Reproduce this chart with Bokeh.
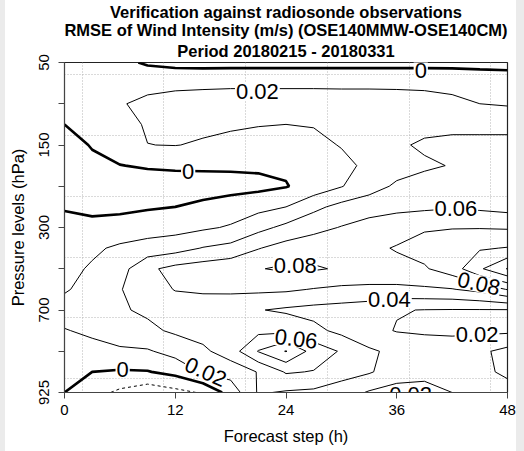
import numpy as np
from bokeh.plotting import figure
from bokeh.models import Range1d, FixedTicker, Title, Spacer, ColumnDataSource
from bokeh.layouts import row
from bokeh.core.properties import value
from bokeh.embed import file_html
from bokeh.resources import INLINE

FONT = "Liberation Sans"

title_lines = [
    "Verification against radiosonde observations",
    "RMSE of Wind Intensity (m/s) (OSE140MMW-OSE140CM)",
    "Period 20180215 - 20180331",
]
x_title = "Forecast step (h)"
y_title = "Pressure levels (hPa)"

# forecast steps (h) of the grid columns
steps_h = [0, 3, 6, 9, 12, 15, 18, 21, 24, 27, 30, 33, 36, 39, 42, 45, 48]
# vertical position of grid rows (0 = 50 hPa at top, 8 = 925 hPa at bottom)
level_pos = [0, 0.5, 1, 1.5, 2, 2.5, 3, 3.5, 4, 4.5, 5, 5.5, 6, 6.5, 7, 7.5, 8]

x_ticks = [0, 12, 24, 36, 48]
y_ticks = [0, 2, 4, 6, 8]
y_minor = [1, 3, 5, 7]
y_tick_labels = ["50", "150", "300", "700", "925"]

# RMSE difference values (one list per grid row)
row_00 = [0.012, 0.009, 0.004, -0.002, -0.005, -0.006, -0.006, -0.006, -0.006, -0.006, -0.006, -0.006, -0.006, -0.006, -0.006, -0.006, -0.006]
row_05 = [0.010, 0.011, 0.010, 0.012, 0.014, 0.015, 0.016, 0.016, 0.016, 0.016, 0.016, 0.016, 0.016, 0.016, 0.015, 0.012, 0.010]
row_10 = [0.008, 0.012, 0.018, 0.026, 0.030, 0.031, 0.031, 0.031, 0.031, 0.031, 0.030, 0.030, 0.029, 0.027, 0.024, 0.020, 0.018]
row_15 = [0.000, 0.006, 0.013, 0.022, 0.024, 0.024, 0.023, 0.021, 0.020, 0.021, 0.023, 0.026, 0.030, 0.034, 0.036, 0.036, 0.036]
row_20 = [-0.009, 0.0015, 0.010, 0.0198, 0.0205, 0.018, 0.014, 0.012, 0.012, 0.015, 0.021, 0.028, 0.037, 0.043, 0.044, 0.044, 0.044]
row_25 = [-0.010, -0.005, -0.0005, 0.002, 0.003, 0.003, 0.003, 0.003, 0.003, 0.008, 0.015, 0.024, 0.032, 0.037, 0.041, 0.043, 0.044]
row_30 = [-0.008, -0.010, -0.010, -0.010, -0.009, -0.008, -0.007, -0.005, -0.001, 0.008, 0.019, 0.032, 0.043, 0.048, 0.052, 0.054, 0.055]
row_35 = [-0.001, -0.006, -0.005, -0.002, 0.000, 0.004, 0.009, 0.014, 0.020, 0.035, 0.046, 0.051, 0.054, 0.056, 0.058, 0.056, 0.053]
row_40 = [0.004, 0.007, 0.009, 0.011, 0.013, 0.017, 0.022, 0.034, 0.045, 0.054, 0.061, 0.068, 0.074, 0.078, 0.079, 0.079, 0.078]
row_45 = [0.013, 0.017, 0.023, 0.028, 0.032, 0.041, 0.046, 0.059, 0.068, 0.072, 0.074, 0.077, 0.081, 0.087, 0.093, 0.098, 0.101]
row_50 = [0.015, 0.022, 0.032, 0.056, 0.066, 0.070, 0.074, 0.079, 0.083, 0.082, 0.078, 0.076, 0.076, 0.078, 0.090, 0.117, 0.141]
row_55 = [0.018, 0.027, 0.039, 0.050, 0.061, 0.063, 0.064, 0.064, 0.063, 0.059, 0.056, 0.055, 0.055, 0.057, 0.059, 0.066, 0.081]
row_60 = [0.028, 0.034, 0.038, 0.043, 0.048, 0.049, 0.046, 0.041, 0.037, 0.034, 0.032, 0.029, 0.021, 0.0195, 0.019, 0.019, 0.019]
row_65 = [0.019, 0.0235, 0.030, 0.036, 0.043, 0.048, 0.053, 0.055, 0.055, 0.045, 0.035, 0.026, 0.019, 0.017, 0.016, 0.016, 0.016]
row_70 = [0.012, 0.014, 0.017, 0.018, 0.027, 0.036, 0.050, 0.081, 0.101, 0.072, 0.058, 0.043, 0.035, 0.032, 0.031, 0.036, 0.046]
row_75 = [0.004, 0.000, -0.002, -0.001, 0.006, 0.022, 0.028, 0.041, 0.062, 0.059, 0.048, 0.042, 0.030, 0.025, 0.028, 0.035, 0.044]
row_80 = [0.000, -0.012, -0.024, -0.033, -0.026, -0.018, 0.008, 0.042, 0.038, 0.036, 0.030, 0.018, 0.012, 0.014, 0.020, 0.028, 0.032]

neg_levels = [-0.02]
zero_levels = [0.0]
pos_levels = [0.02, 0.04, 0.06, 0.08, 0.10, 0.12, 0.14]

# contour labels
lab_text = ["0", "0.02", "0", "0.06", "0.08", "0.08", "0.04", "0.02", "0.06", "0.02", "0", "0.02"]
lab_x = [38.6, 20.9, 13.4, 42.4, 25.0, 44.9, 35.2, 44.7, 25.1, 15.3, 6.3, 37.5]
lab_y = [0.19, 0.70, 2.64, 3.54, 4.92, 5.36, 5.75, 6.60, 6.70, 7.50, 7.45, 8.05]
lab_angle = [0, 0, 0, 0, 0, -0.22, 0, 0, -0.12, -0.42, 0, 0]

# dotted background grid positions
grid_x = [1.95, 10.7, 19.6, 28.5, 37.4, 46.2]
grid_y = [0.29, 1.77, 3.25, 4.73, 6.18, 7.66]

z = np.array([row_00, row_05, row_10, row_15, row_20, row_25, row_30, row_35, row_40,
              row_45, row_50, row_55, row_60, row_65, row_70, row_75, row_80])

p = figure(width=511, height=451, output_backend="svg", toolbar_location=None,
           x_range=Range1d(0, 48), y_range=Range1d(8, 0),
           min_border_left=59, min_border_right=9, min_border_top=62, min_border_bottom=59)

p.background_fill_color = "white"
p.border_fill_color = "white"
p.outline_line_color = "#222222"
p.outline_line_width = 1.2


def make_title(txt, so):
    kw = dict(text=txt, align="center", text_font=FONT, text_font_size="16.5px",
              text_font_style="bold", text_color="black", offset=0)
    try:
        return Title(standoff=so, **kw)
    except Exception:
        return Title(standoff=0, **kw)


title_standoffs = [5, -2, -2]
for i, txt in enumerate(reversed(title_lines)):
    p.add_layout(make_title(txt, title_standoffs[i]), "above")

p.xgrid.ticker = FixedTicker(ticks=grid_x)
p.ygrid.ticker = FixedTicker(ticks=grid_y)
for g in (p.xgrid, p.ygrid):
    g.grid_line_color = "#b5b5b5"
    g.grid_line_dash = "1 2"
    g.grid_line_width = 1

p.xaxis.ticker = FixedTicker(ticks=x_ticks)
p.yaxis.ticker = FixedTicker(ticks=y_ticks, minor_ticks=y_minor)
p.yaxis.major_label_overrides = {t: s for t, s in zip(y_ticks, y_tick_labels)}
p.yaxis.major_label_orientation = "vertical"
p.xaxis.axis_label = x_title
p.yaxis.axis_label = y_title
for ax in (p.xaxis, p.yaxis):
    ax.axis_line_color = "#444444"
    ax.major_tick_line_color = "#444444"
    ax.minor_tick_line_color = "#444444"
    ax.major_tick_in = 0
    ax.major_tick_out = 6
    ax.minor_tick_in = 0
    ax.minor_tick_out = 6
    ax.major_label_text_font = FONT
    ax.major_label_text_font_size = "15px"
    ax.major_label_text_color = "black"
    ax.axis_label_text_font = FONT
    ax.axis_label_text_font_size = "16.5px"
    ax.axis_label_text_font_style = "normal"
    ax.axis_label_text_color = "black"
p.xaxis.minor_tick_line_color = None
p.xaxis.major_label_standoff = 6
p.yaxis.major_label_standoff = 10
p.xaxis.axis_label_standoff = 9
p.yaxis.axis_label_standoff = 9

p.contour(steps_h, level_pos, z, levels=neg_levels, line_color="black", line_width=1, line_dash="3 3")
p.contour(steps_h, level_pos, z, levels=zero_levels, line_color="black", line_width=2.6)
p.contour(steps_h, level_pos, z, levels=pos_levels, line_color="black", line_width=1)

src = ColumnDataSource(dict(x=lab_x, y=lab_y, t=lab_text, a=lab_angle))
p.text(x="x", y="y", text="t", angle="a", source=src, text_font=value(FONT),
       text_font_size="22px", text_align="center", text_baseline="middle", text_color="black",
       background_fill_color="white", padding=1)

left = Spacer(width=5, height=451, styles={"background-color": "#ebebeb"})
right = Spacer(width=8, height=451, styles={"background-color": "#ebebeb"})
layout = row(left, p, right)

open("out.html", "w").write(file_html(layout, INLINE))
